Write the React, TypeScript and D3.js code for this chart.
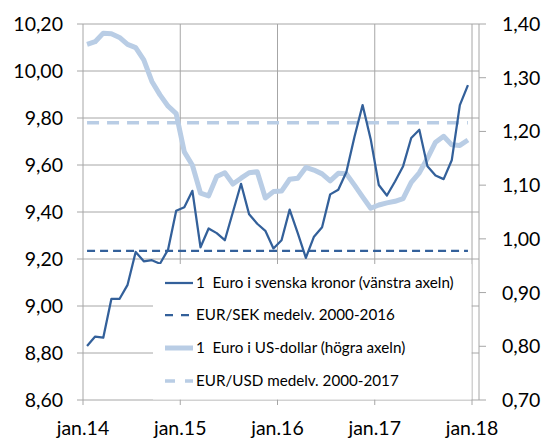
import React from 'react';
import * as d3 from 'd3';

// 1 EUR in SEK, monthly, jan 2014 - dec 2017 (left axis)
const sekRate = [
  8.83, 8.87, 8.865, 9.03, 9.03, 9.09, 9.23, 9.19, 9.195, 9.18, 9.24, 9.405,
  9.42, 9.49, 9.25, 9.33, 9.31, 9.28, 9.40, 9.52, 9.39, 9.35, 9.32, 9.245,
  9.28, 9.41, 9.31, 9.205, 9.295, 9.335, 9.475, 9.495, 9.57, 9.72, 9.855, 9.71,
  9.515, 9.47, 9.53, 9.595, 9.715, 9.75, 9.595, 9.555, 9.54, 9.62, 9.855, 9.94,
];

// 1 EUR in USD, monthly (right axis)
const usdRate = [
  1.362, 1.367, 1.383, 1.382, 1.375, 1.362, 1.356, 1.333, 1.293, 1.268, 1.247, 1.233,
  1.162, 1.137, 1.085, 1.080, 1.116, 1.123, 1.102, 1.113, 1.123, 1.125, 1.076, 1.088,
  1.089, 1.111, 1.113, 1.133, 1.128, 1.121, 1.108, 1.122, 1.121, 1.100, 1.078, 1.057,
  1.063, 1.067, 1.070, 1.075, 1.105, 1.123, 1.150, 1.180, 1.191, 1.175, 1.174, 1.184,
];

const sekAverage = 9.235;
const usdAverage = 1.216;

const leftTicks = [8.6, 8.8, 9.0, 9.2, 9.4, 9.6, 9.8, 10.0, 10.2];
const rightTicks = [0.7, 0.8, 0.9, 1.0, 1.1, 1.2, 1.3, 1.4];
const yearLabels = ['jan.14', 'jan.15', 'jan.16', 'jan.17', 'jan.18'];

const legendItems = [
  { label: '1  Euro i svenska kronor (vänstra axeln)', kind: 'sek' },
  { label: 'EUR/SEK medelv. 2000-2016', kind: 'sekAvg' },
  { label: '1  Euro i US-dollar (högra axeln)', kind: 'usd' },
  { label: 'EUR/USD medelv. 2000-2017', kind: 'usdAvg' },
];

const W = 543;
const H = 439;
const plot = { left: 83, right: 479, top: 24, bottom: 400 };
const DARK = '#33609A';
const LIGHT = '#B9CDE5';
const GRID = '#A6A6A6';
const FONT = 'Lato, "Open Sans", sans-serif';

const fmt = (v: number) => d3.format('.2f')(v).replace('.', ',');

export default function App() {
  // months on x: 48 monthly slots between jan.14 and jan.18, points at mid-month
  const x = d3.scaleLinear().domain([0, 48]).range([plot.left, 472]);
  const yL = d3.scaleLinear().domain([8.6, 10.2]).range([plot.bottom, plot.top]);
  const yR = d3.scaleLinear().domain([0.7, 1.4]).range([plot.bottom, plot.top]);

  const sekLine = d3.line<number>().x((_, i) => x(i + 0.5)).y(d => yL(d));
  const usdLine = d3.line<number>().x((_, i) => x(i + 0.5)).y(d => yR(d));
  const sekAvgLine = sekRate.map(() => sekAverage);
  const usdAvgLine = usdRate.map(() => usdAverage);

  const legend = { x: 153, y: 264, w: 318.5, h: 135.5 };
  const rowY = [283, 315, 348, 381];

  return (
    <svg width={W} height={H} style={{ position: 'absolute', left: 0, top: 0, background: '#fff' }}>
      <rect width={W} height={H} fill="#fff" />

      {/* horizontal gridlines with outward left ticks */}
      {leftTicks.map(t => (
        <line key={'g' + t} x1={plot.left - 6} x2={plot.right} y1={yL(t)} y2={yL(t)} stroke={GRID} strokeWidth={1} />
      ))}
      {/* vertical gridlines per year + ticks below */}
      {yearLabels.map((_, k) => (
        <line key={'v' + k} x1={x(k * 12)} x2={x(k * 12)} y1={plot.top} y2={plot.bottom + 5} stroke={GRID} strokeWidth={1} />
      ))}
      {/* right axis */}
      <line x1={plot.right} x2={plot.right} y1={plot.top} y2={plot.bottom} stroke={GRID} strokeWidth={1} />
      {rightTicks.map(t => (
        <line key={'r' + t} x1={plot.right} x2={plot.right + 7} y1={yR(t)} y2={yR(t)} stroke={GRID} strokeWidth={1} />
      ))}

      {/* series */}
      <path d={usdLine(usdRate) || ''} fill="none" stroke={LIGHT} strokeWidth={5} strokeLinejoin="round" />
      <path d={usdLine(usdAvgLine) || ''} fill="none" stroke={LIGHT} strokeWidth={3.5} strokeDasharray="12 8" />
      <path d={sekLine(sekAvgLine) || ''} fill="none" stroke={DARK} strokeWidth={2.25} strokeDasharray="8 5" />
      <path d={sekLine(sekRate) || ''} fill="none" stroke={DARK} strokeWidth={2.25} strokeLinejoin="round" />

      {/* legend */}
      <rect x={legend.x} y={legend.y} width={legend.w} height={legend.h} fill="#fff" />
      {legendItems.map((item, i) => {
        const y = rowY[i];
        const stroke = item.kind.startsWith('sek') ? DARK : LIGHT;
        const width = item.kind === 'usd' ? 5 : item.kind === 'usdAvg' ? 3.5 : 2.25;
        const dash = item.kind === 'sekAvg' ? '8 8' : item.kind === 'usdAvg' ? '10 10' : undefined;
        return (
          <g key={item.kind}>
            <line x1={165} x2={193} y1={y} y2={y} stroke={stroke} strokeWidth={width} strokeDasharray={dash} />
            <text x={196} y={y} dy="0.36em" fontFamily={FONT} fontSize={15.2} fill="#000" style={{ whiteSpace: 'pre' }}>
              {item.label}
            </text>
          </g>
        );
      })}

      {/* left axis labels */}
      {leftTicks.map(t => (
        <text key={'lt' + t} x={63} y={yL(t)} dy="0.36em" textAnchor="end" fontFamily={FONT} fontSize={19.5} fill="#000">
          {fmt(t)}
        </text>
      ))}
      {/* right axis labels */}
      {rightTicks.map(t => (
        <text key={'rt' + t} x={502} y={yR(t)} dy="0.36em" textAnchor="start" fontFamily={FONT} fontSize={19.5} fill="#000">
          {fmt(t)}
        </text>
      ))}
      {/* x labels */}
      {yearLabels.map((lab, k) => (
        <text key={lab} x={x(k * 12)} y={435} textAnchor="middle" fontFamily={FONT} fontSize={19.5} fill="#000">
          {lab}
        </text>
      ))}
    </svg>
  );
}
